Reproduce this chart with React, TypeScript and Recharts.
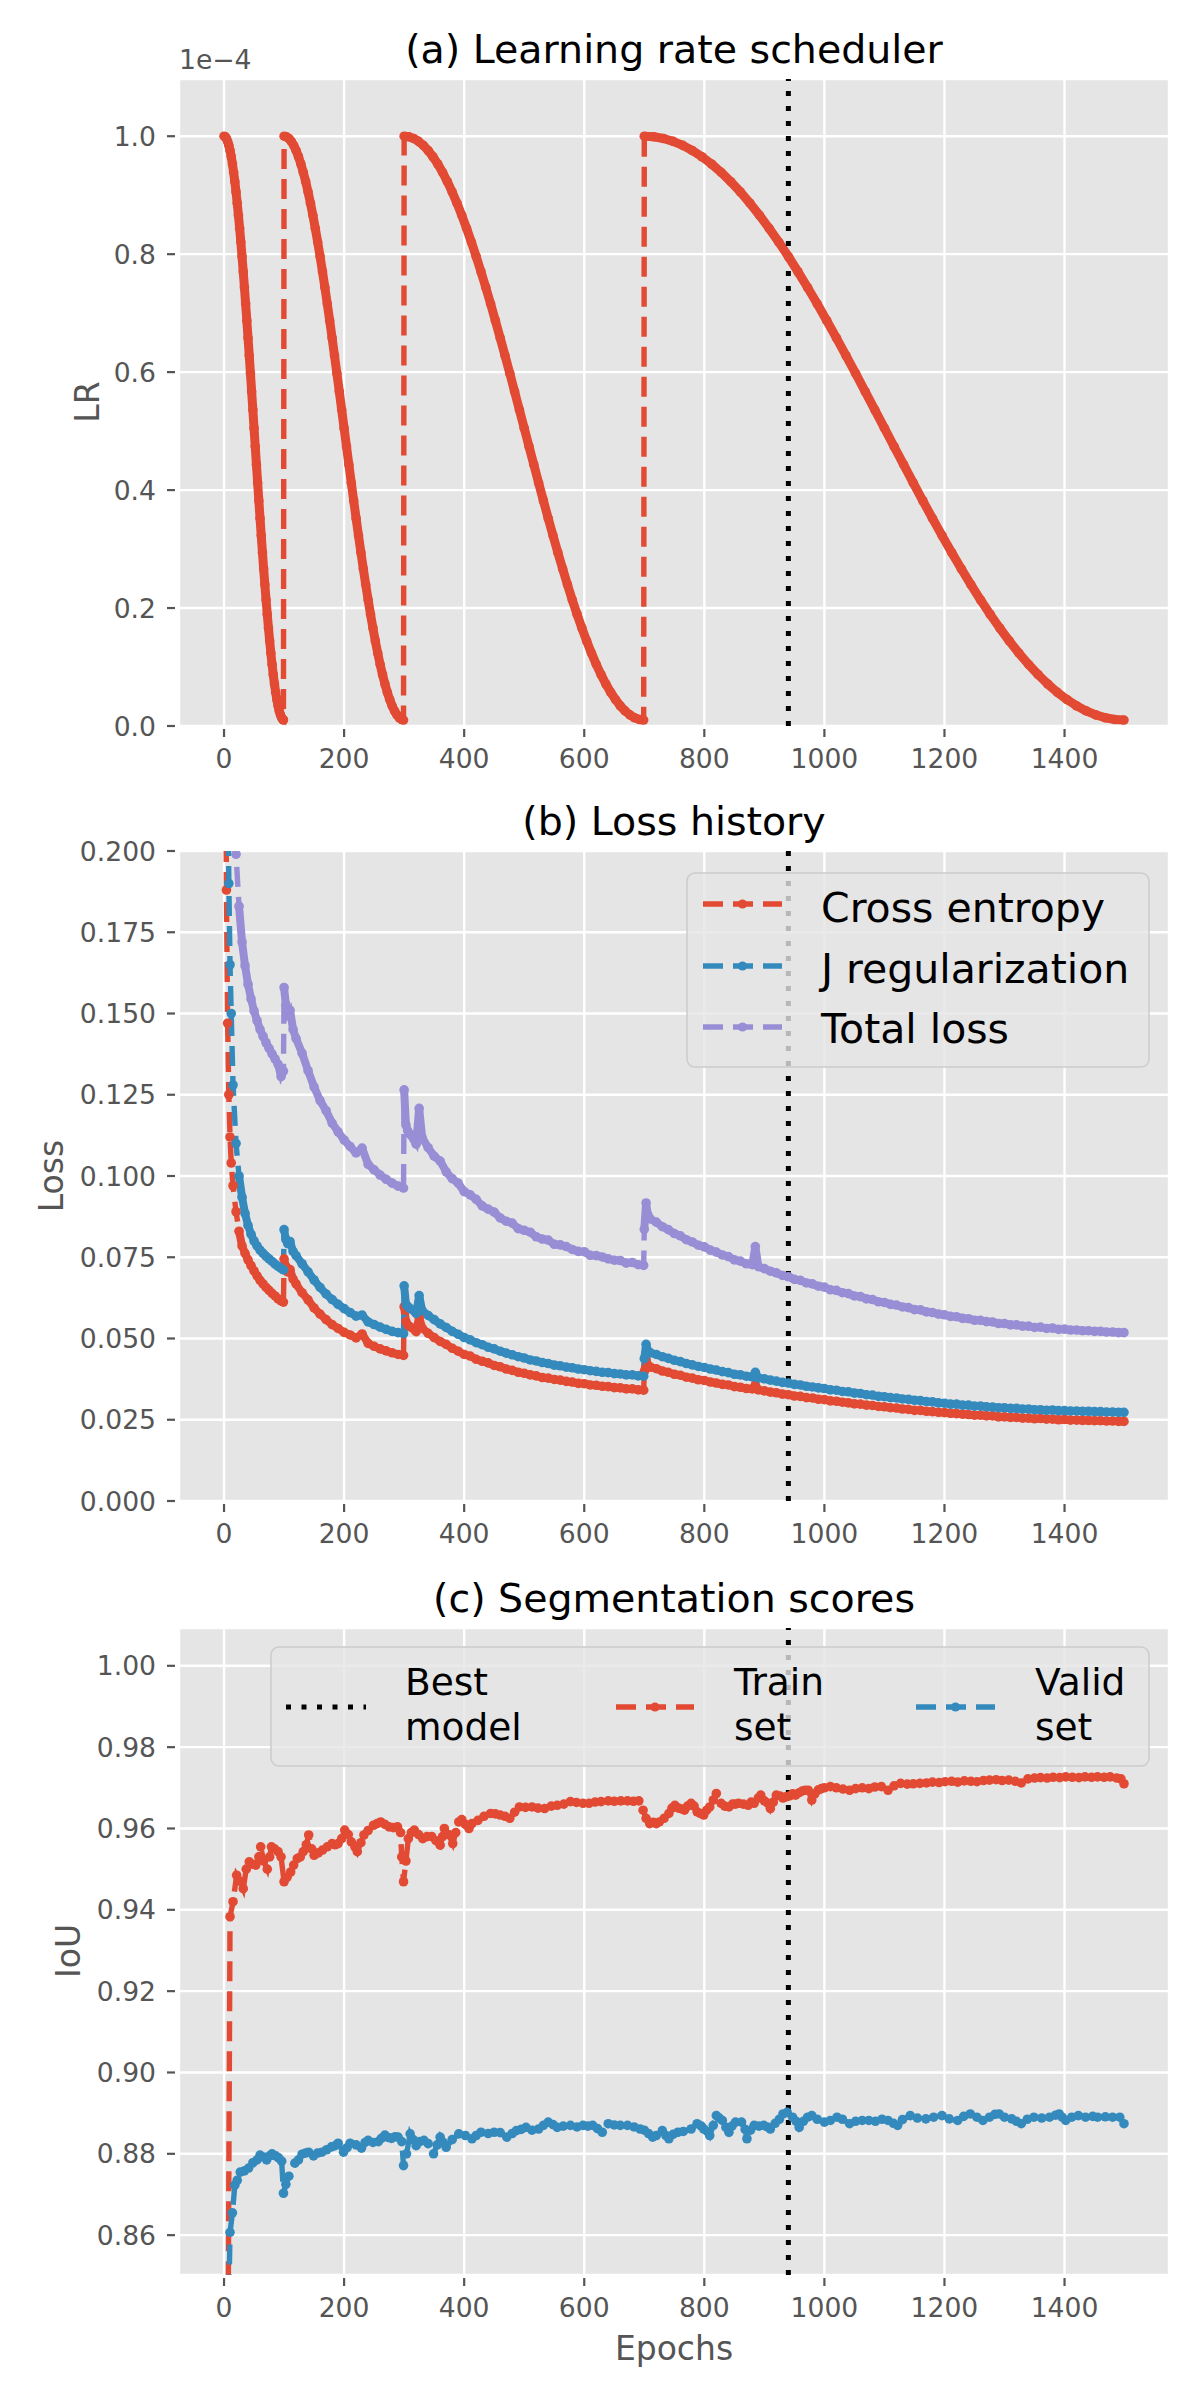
import React from 'react';
import { LineChart, Line, XAxis, YAxis, CartesianGrid, ReferenceLine } from 'recharts';

const FONT = '"DejaVu Sans", "Liberation Sans", sans-serif';
const RED = '#E24A33';
const BLUE = '#348ABD';
const PURPLE = '#988ED5';
const GRID_BG = '#E5E5E5';
const TICK_COLOR = '#555555';

// ---------- axis ticks ----------
const xTicks = [0, 200, 400, 600, 800, 1000, 1200, 1400];
const lrTicks = [0, 0.2, 0.4, 0.6, 0.8, 1.0];
const lossTicks = [0, 0.025, 0.05, 0.075, 0.1, 0.125, 0.15, 0.175, 0.2];
const iouTicks = [0.86, 0.88, 0.9, 0.92, 0.94, 0.96, 0.98, 1.0];
const bestEpoch = 940;
const restartEpochs = [100, 300, 700];

// ---------- (a) learning rate (units of 1e-4) ----------
const lrEpochs1 = [0, 2, 4, 6, 8, 10, 12, 14, 16, 18, 20, 22, 24, 26, 28, 30, 32, 34, 36, 38, 40, 42, 44, 46, 48, 50, 52, 54, 56, 58, 60, 62, 64, 66, 68, 70, 72, 74, 76, 78, 80, 82, 84, 86, 88, 90, 92, 94, 96, 98, 99];
const lrCycle1 = [1.0, 0.999, 0.9961, 0.9912, 0.9845, 0.9758, 0.9652, 0.9529, 0.9388, 0.9229, 0.9055, 0.8864, 0.8658, 0.8438, 0.8205, 0.796, 0.7702, 0.7435, 0.7158, 0.6872, 0.658, 0.6281, 0.5978, 0.567, 0.5361, 0.505, 0.4739, 0.443, 0.4122, 0.3819, 0.352, 0.3228, 0.2942, 0.2665, 0.2398, 0.214, 0.1895, 0.1662, 0.1442, 0.1236, 0.1045, 0.0871, 0.0712, 0.0571, 0.0448, 0.0342, 0.0256, 0.0188, 0.0139, 0.011, 0.0102];
const lrEpochs2 = [100, 104, 108, 112, 116, 120, 124, 128, 132, 136, 140, 144, 148, 152, 156, 160, 164, 168, 172, 176, 180, 184, 188, 192, 196, 200, 204, 208, 212, 216, 220, 224, 228, 232, 236, 240, 244, 248, 252, 256, 260, 264, 268, 272, 276, 280, 284, 288, 292, 296, 299];
const lrCycle2 = [1.0, 0.999, 0.9961, 0.9912, 0.9845, 0.9758, 0.9652, 0.9529, 0.9388, 0.9229, 0.9055, 0.8864, 0.8658, 0.8438, 0.8205, 0.796, 0.7702, 0.7435, 0.7158, 0.6872, 0.658, 0.6281, 0.5978, 0.567, 0.5361, 0.505, 0.4739, 0.443, 0.4122, 0.3819, 0.352, 0.3228, 0.2942, 0.2665, 0.2398, 0.214, 0.1895, 0.1662, 0.1442, 0.1236, 0.1045, 0.0871, 0.0712, 0.0571, 0.0448, 0.0342, 0.0256, 0.0188, 0.0139, 0.011, 0.0101];
const lrEpochs3 = [300, 308, 316, 324, 332, 340, 348, 356, 364, 372, 380, 388, 396, 404, 412, 420, 428, 436, 444, 452, 460, 468, 476, 484, 492, 500, 508, 516, 524, 532, 540, 548, 556, 564, 572, 580, 588, 596, 604, 612, 620, 628, 636, 644, 652, 660, 668, 676, 684, 692, 699];
const lrCycle3 = [1.0, 0.999, 0.9961, 0.9912, 0.9845, 0.9758, 0.9652, 0.9529, 0.9388, 0.9229, 0.9055, 0.8864, 0.8658, 0.8438, 0.8205, 0.796, 0.7702, 0.7435, 0.7158, 0.6872, 0.658, 0.6281, 0.5978, 0.567, 0.5361, 0.505, 0.4739, 0.443, 0.4122, 0.3819, 0.352, 0.3228, 0.2942, 0.2665, 0.2398, 0.214, 0.1895, 0.1662, 0.1442, 0.1236, 0.1045, 0.0871, 0.0712, 0.0571, 0.0448, 0.0342, 0.0256, 0.0188, 0.0139, 0.011, 0.0101];
const lrEpochs4 = [700, 716, 732, 748, 764, 780, 796, 812, 828, 844, 860, 876, 892, 908, 924, 940, 956, 972, 988, 1004, 1020, 1036, 1052, 1068, 1084, 1100, 1116, 1132, 1148, 1164, 1180, 1196, 1212, 1228, 1244, 1260, 1276, 1292, 1308, 1324, 1340, 1356, 1372, 1388, 1404, 1420, 1436, 1452, 1468, 1484, 1499];
const lrCycle4 = [1.0, 0.999, 0.9961, 0.9912, 0.9845, 0.9758, 0.9652, 0.9529, 0.9388, 0.9229, 0.9055, 0.8864, 0.8658, 0.8438, 0.8205, 0.796, 0.7702, 0.7435, 0.7158, 0.6872, 0.658, 0.6281, 0.5978, 0.567, 0.5361, 0.505, 0.4739, 0.443, 0.4122, 0.3819, 0.352, 0.3228, 0.2942, 0.2665, 0.2398, 0.214, 0.1895, 0.1662, 0.1442, 0.1236, 0.1045, 0.0871, 0.0712, 0.0571, 0.0448, 0.0342, 0.0256, 0.0188, 0.0139, 0.011, 0.0101];

// ---------- (b) loss history ----------
const lossEpochs = [
  0, 2, 4, 6, 8, 10, 12, 15, 20, 25, 30, 35, 40, 45, 50, 55, 60, 65, 70, 75, 80, 85, 90, 95, 99,
  100, 103, 106, 110, 115, 120, 130, 140, 150, 160, 170, 180, 190, 200, 210, 220, 230, 240, 250, 260, 270, 280, 290, 299,
  300, 303, 306, 310, 320, 325, 330, 340, 350, 360, 370, 380, 390, 400, 410, 420, 430, 440, 450, 460, 470, 480, 490, 500, 510, 520, 530, 540, 550, 560, 570, 580, 590, 600, 610, 620, 630, 640, 650, 660, 670, 680, 690, 699,
  700, 703, 706, 710, 720, 730, 740, 750, 760, 770, 780, 790, 800, 810, 820, 830, 840, 850, 860, 870, 880, 885,
  890, 900, 910, 920, 930, 940, 950, 960, 970, 980, 990, 1000, 1010, 1020, 1030, 1040, 1050, 1060, 1070, 1080,
  1090, 1100, 1110, 1120, 1130, 1140, 1150, 1160, 1170, 1180, 1190, 1200, 1210, 1220, 1230, 1240, 1250, 1260, 1270, 1280,
  1290, 1300, 1310, 1320, 1330, 1340, 1350, 1360, 1370, 1380, 1390, 1400, 1410, 1420, 1430, 1440, 1450, 1460, 1470, 1480, 1490, 1499,
];
const crossEntropy = [
  0.452, 0.262, 0.188, 0.147, 0.125, 0.112, 0.104, 0.097, 0.089, 0.083, 0.0785, 0.0762, 0.0742, 0.0724, 0.0708, 0.0693, 0.0679, 0.0668, 0.0657, 0.0648, 0.0639, 0.0631, 0.0622, 0.0616, 0.0612,
  0.0745, 0.0722, 0.0705, 0.0712, 0.0683, 0.0668, 0.0641, 0.0619, 0.0594, 0.0575, 0.0558, 0.0543, 0.0531, 0.0519, 0.0511, 0.0502, 0.0514, 0.0485, 0.0476, 0.0468, 0.0462, 0.0456, 0.0451, 0.0448,
  0.0598, 0.0552, 0.0541, 0.0536, 0.0521, 0.0566, 0.0532, 0.0516, 0.0503, 0.0491, 0.0482, 0.047, 0.0461, 0.0451, 0.0446, 0.0436, 0.043, 0.0425, 0.0417, 0.0413, 0.0406, 0.0402, 0.0396, 0.0393, 0.0388, 0.0385, 0.038, 0.0378, 0.0374, 0.0372, 0.0368, 0.0366, 0.0362, 0.0361, 0.0357, 0.0356, 0.0353, 0.0352, 0.0349, 0.0348, 0.0345, 0.0345, 0.0342, 0.0341,
  0.0398, 0.0435, 0.0418, 0.0412, 0.0407, 0.04, 0.0396, 0.039, 0.0387, 0.0381, 0.0378, 0.0373, 0.0371, 0.0366, 0.0363, 0.0359, 0.0357, 0.0352, 0.035, 0.0346, 0.0345, 0.0357,
  0.0342, 0.0339, 0.0335, 0.0333, 0.0329, 0.0327, 0.0323, 0.0322, 0.0318, 0.0317, 0.0313, 0.0312, 0.0308, 0.0307, 0.0304, 0.0302, 0.0299, 0.0298, 0.0295, 0.0294,
  0.0291, 0.029, 0.0287, 0.0286, 0.0283, 0.0282, 0.0279, 0.0279, 0.0276, 0.0275, 0.0273, 0.0272, 0.027, 0.0269, 0.0267, 0.0266, 0.0264, 0.0264, 0.0262, 0.0262,
  0.0259, 0.0259, 0.0257, 0.0257, 0.0255, 0.0255, 0.0253, 0.0254, 0.0252, 0.0252, 0.025, 0.0251, 0.0249, 0.0249, 0.0248, 0.0248, 0.0247, 0.0247, 0.0246, 0.0246, 0.0245, 0.0245,
];
const jRegularization = [
  0.5, 0.4, 0.3, 0.24, 0.19, 0.165, 0.15, 0.128, 0.11, 0.1, 0.0935, 0.0885, 0.0848, 0.0821, 0.08, 0.0785, 0.0772, 0.0762, 0.0753, 0.0745, 0.0737, 0.0729, 0.0722, 0.0716, 0.0711,
  0.0835, 0.0805, 0.0792, 0.0798, 0.0768, 0.0755, 0.073, 0.0705, 0.068, 0.0657, 0.0637, 0.062, 0.0605, 0.0592, 0.058, 0.0569, 0.0572, 0.0551, 0.0543, 0.0535, 0.0528, 0.0522, 0.0518, 0.0515,
  0.0662, 0.0605, 0.0598, 0.0592, 0.0577, 0.0632, 0.0586, 0.0571, 0.0558, 0.0545, 0.0534, 0.0522, 0.0513, 0.0503, 0.0496, 0.0487, 0.0481, 0.0473, 0.0468, 0.0461, 0.0455, 0.045, 0.0444, 0.044, 0.0434, 0.0431, 0.0426, 0.0423, 0.0418, 0.0416, 0.0412, 0.041, 0.0406, 0.0404, 0.0401, 0.0399, 0.0396, 0.0395, 0.0392, 0.0391, 0.0388, 0.0388, 0.0385, 0.0384,
  0.0438, 0.0482, 0.0462, 0.0456, 0.0451, 0.0444, 0.0439, 0.0433, 0.0429, 0.0423, 0.0419, 0.0414, 0.0411, 0.0406, 0.0403, 0.0398, 0.0395, 0.039, 0.0388, 0.0384, 0.0382, 0.0396,
  0.0379, 0.0376, 0.0372, 0.0369, 0.0365, 0.0363, 0.0359, 0.0357, 0.0353, 0.0351, 0.0348, 0.0346, 0.0342, 0.0341, 0.0337, 0.0336, 0.0332, 0.0331, 0.0327, 0.0326,
  0.0322, 0.0321, 0.0318, 0.0317, 0.0314, 0.0313, 0.031, 0.0309, 0.0306, 0.0305, 0.0302, 0.0301, 0.0298, 0.0298, 0.0295, 0.0295, 0.0292, 0.0292, 0.029, 0.0289,
  0.0287, 0.0287, 0.0285, 0.0285, 0.0283, 0.0283, 0.0281, 0.0281, 0.0279, 0.028, 0.0278, 0.0278, 0.0277, 0.0277, 0.0276, 0.0276, 0.0275, 0.0275, 0.0274, 0.0274, 0.0273, 0.0273,
];
const totalLoss = [
  0.952, 0.662, 0.488, 0.387, 0.315, 0.277, 0.254, 0.225, 0.199, 0.183, 0.172, 0.1647, 0.159, 0.1545, 0.1508, 0.1478, 0.1451, 0.143, 0.141, 0.1393, 0.1376, 0.136, 0.1344, 0.1306, 0.1323,
  0.158, 0.1527, 0.1497, 0.151, 0.1451, 0.1423, 0.1378, 0.1324, 0.1274, 0.1232, 0.1201, 0.1163, 0.1136, 0.1111, 0.1091, 0.1071, 0.1086, 0.1036, 0.1019, 0.1003, 0.099, 0.0978, 0.0969, 0.0963,
  0.1265, 0.1157, 0.1139, 0.1128, 0.1098, 0.1208, 0.1118, 0.1087, 0.1061, 0.1046, 0.1013, 0.0992, 0.0978, 0.0952, 0.0942, 0.0928, 0.0908, 0.0898, 0.0889, 0.0871, 0.0861, 0.0855, 0.0838, 0.0833, 0.0827, 0.0813, 0.0806, 0.0803, 0.079, 0.0788, 0.0783, 0.0774, 0.0768, 0.0767, 0.0756, 0.0755, 0.0751, 0.0745, 0.0741, 0.074, 0.0732, 0.0734, 0.0727, 0.0725,
  0.0836, 0.0917, 0.088, 0.0868, 0.0858, 0.0844, 0.0835, 0.0823, 0.0816, 0.0804, 0.0797, 0.0787, 0.0782, 0.0772, 0.0766, 0.0757, 0.0752, 0.0742, 0.0738, 0.073, 0.0727, 0.0783,
  0.0721, 0.0715, 0.0707, 0.0702, 0.0694, 0.069, 0.0682, 0.0679, 0.0671, 0.0668, 0.0661, 0.0658, 0.065, 0.0648, 0.0641, 0.0638, 0.0631, 0.0629, 0.0622, 0.062,
  0.0613, 0.0611, 0.0605, 0.0603, 0.0597, 0.0595, 0.0589, 0.0588, 0.0582, 0.058, 0.0575, 0.0573, 0.0568, 0.0567, 0.0562, 0.0561, 0.0556, 0.0556, 0.0552, 0.0551,
  0.0546, 0.0546, 0.0542, 0.0542, 0.0538, 0.0538, 0.0534, 0.0535, 0.0531, 0.0532, 0.0528, 0.0529, 0.0526, 0.0526, 0.0524, 0.0524, 0.0522, 0.0522, 0.052, 0.052, 0.0518, 0.0518,
];

// ---------- (c) segmentation scores ----------
const trainEpochs = [0, 10, 15, 21, 27, 32, 37, 42, 48, 53, 58, 61, 66, 72, 76, 79, 84, 90, 95, 100, 105, 111, 116, 122, 127, 132, 137, 141, 146, 150, 157, 164, 172, 180, 185, 190, 196, 201, 207, 212, 218, 222, 228, 233, 240, 249, 255, 261, 268, 275, 282, 289, 294, 296, 299, 303, 307, 312, 317, 324, 331, 338, 346, 353, 360, 364, 367, 374, 381, 386, 391, 396, 402, 408, 413, 423, 433, 444, 452, 460, 468, 476, 484, 492, 502, 513, 523, 534, 545, 555, 566, 577, 587, 598, 608, 618, 628, 640, 650, 661, 672, 682, 691, 698, 703, 709, 715, 720, 725, 733, 741, 746, 751, 757, 762, 767, 772, 778, 783, 788, 793, 799, 804, 809, 815, 820, 828, 834, 841, 847, 852, 857, 865, 873, 878, 883, 890, 894, 900, 906, 910, 915, 920, 926, 931, 936, 942, 947, 952, 958, 963, 968, 973, 979, 984, 990, 995, 1000, 1010, 1020, 1031, 1042, 1052, 1063, 1074, 1084, 1095, 1106, 1116, 1127, 1138, 1148, 1159, 1170, 1180, 1191, 1201, 1212, 1222, 1233, 1244, 1254, 1265, 1275, 1286, 1296, 1307, 1318, 1328, 1339, 1350, 1360, 1371, 1381, 1392, 1402, 1413, 1424, 1434, 1445, 1455, 1466, 1476, 1487, 1494, 1499];
const trainIoU = [0.62, 0.9383, 0.942, 0.9485, 0.947, 0.9452, 0.95, 0.9518, 0.9512, 0.951, 0.953, 0.9555, 0.952, 0.95, 0.953, 0.9555, 0.955, 0.9543, 0.953, 0.9469, 0.948, 0.9493, 0.951, 0.9526, 0.953, 0.9543, 0.956, 0.9584, 0.955, 0.9534, 0.954, 0.9547, 0.9555, 0.9563, 0.956, 0.9563, 0.9575, 0.9596, 0.9585, 0.9567, 0.9555, 0.9543, 0.9565, 0.9584, 0.9595, 0.9608, 0.9612, 0.9616, 0.961, 0.9604, 0.9602, 0.9604, 0.959, 0.953, 0.9469, 0.952, 0.9575, 0.959, 0.9596, 0.9585, 0.9575, 0.958, 0.958, 0.957, 0.9559, 0.958, 0.96, 0.9585, 0.9563, 0.959, 0.9616, 0.9622, 0.961, 0.96, 0.9612, 0.962, 0.963, 0.9637, 0.9636, 0.9633, 0.963, 0.9625, 0.964, 0.9653, 0.9652, 0.9653, 0.965, 0.9649, 0.9655, 0.9657, 0.966, 0.9666, 0.9664, 0.9662, 0.9662, 0.9665, 0.9666, 0.9668, 0.9667, 0.9668, 0.9668, 0.9667, 0.9668, 0.9645, 0.9625, 0.9612, 0.9615, 0.9612, 0.9616, 0.9625, 0.9637, 0.965, 0.9657, 0.965, 0.9648, 0.9645, 0.9655, 0.9662, 0.9655, 0.9641, 0.9637, 0.9633, 0.9645, 0.9653, 0.967, 0.9686, 0.9662, 0.9655, 0.9653, 0.966, 0.966, 0.9662, 0.966, 0.9657, 0.9665, 0.9662, 0.9675, 0.9682, 0.9668, 0.9662, 0.9649, 0.9665, 0.9682, 0.968, 0.9675, 0.9678, 0.968, 0.9685, 0.9682, 0.9688, 0.9692, 0.9694, 0.9694, 0.967, 0.9685, 0.9695, 0.9698, 0.97, 0.9703, 0.97, 0.9697, 0.9694, 0.9698, 0.97, 0.9698, 0.9702, 0.9703, 0.9694, 0.9705, 0.9711, 0.9709, 0.971, 0.9711, 0.9712, 0.9714, 0.9713, 0.9715, 0.9716, 0.9714, 0.9717, 0.9716, 0.9715, 0.9718, 0.9719, 0.972, 0.9718, 0.9719, 0.9716, 0.9712, 0.9722, 0.9724, 0.9725, 0.9724, 0.9726, 0.9725, 0.9727, 0.9726, 0.9725, 0.9727, 0.9726, 0.9727, 0.9726, 0.9727, 0.9724, 0.9722, 0.971];
const validEpochs = [0, 5, 10, 14, 18, 22, 27, 34, 41, 48, 55, 60, 66, 71, 76, 80, 86, 91, 96, 99, 103, 108, 118, 124, 130, 136, 141, 149, 156, 163, 171, 179, 185, 190, 199, 205, 210, 220, 229, 235, 240, 248, 257, 262, 268, 274, 279, 285, 290, 296, 299, 304, 310, 315, 320, 326, 333, 340, 349, 355, 360, 365, 370, 380, 391, 402, 413, 420, 428, 440, 450, 460, 471, 480, 487, 495, 503, 513, 524, 532, 540, 548, 555, 565, 577, 588, 598, 606, 614, 622, 630, 640, 650, 660, 672, 683, 693, 700, 707, 714, 720, 730, 736, 741, 748, 756, 765, 778, 788, 795, 799, 805, 809, 815, 820, 825, 830, 836, 841, 846, 852, 862, 868, 871, 877, 883, 891, 899, 905, 910, 918, 925, 931, 938, 947, 953, 958, 965, 972, 979, 988, 1000, 1010, 1021, 1030, 1042, 1052, 1063, 1074, 1085, 1096, 1106, 1115, 1122, 1130, 1143, 1155, 1169, 1182, 1196, 1208, 1222, 1232, 1243, 1254, 1264, 1275, 1284, 1291, 1300, 1312, 1320, 1328, 1338, 1349, 1362, 1375, 1385, 1391, 1396, 1402, 1412, 1423, 1435, 1447, 1455, 1468, 1480, 1492, 1499];
const validIoU = [0.72, 0.82, 0.8607, 0.8655, 0.8723, 0.8735, 0.8755, 0.8758, 0.8765, 0.8778, 0.8785, 0.8797, 0.8792, 0.8785, 0.8795, 0.88, 0.8795, 0.879, 0.8782, 0.8703, 0.8725, 0.8745, 0.8777, 0.8785, 0.8799, 0.8802, 0.8804, 0.8795, 0.8802, 0.8804, 0.881, 0.8817, 0.882, 0.8826, 0.8804, 0.8815, 0.8826, 0.8822, 0.8814, 0.8828, 0.8833, 0.8828, 0.883, 0.8838, 0.8846, 0.884, 0.8838, 0.8842, 0.8841, 0.883, 0.8771, 0.88, 0.8849, 0.8835, 0.882, 0.883, 0.8833, 0.8825, 0.88, 0.8822, 0.8841, 0.8828, 0.8816, 0.8835, 0.8849, 0.8845, 0.8837, 0.8845, 0.8853, 0.885, 0.8853, 0.8852, 0.8841, 0.885, 0.8857, 0.886, 0.8865, 0.8858, 0.8861, 0.887, 0.8878, 0.8872, 0.8865, 0.8868, 0.887, 0.8866, 0.887, 0.8868, 0.887, 0.8862, 0.8853, 0.8874, 0.8871, 0.887, 0.887, 0.8866, 0.8861, 0.8858, 0.885, 0.8841, 0.8845, 0.8857, 0.8845, 0.8837, 0.8848, 0.8853, 0.8855, 0.8861, 0.8874, 0.8868, 0.8861, 0.8855, 0.8845, 0.887, 0.8894, 0.8888, 0.8882, 0.8865, 0.8853, 0.8868, 0.8878, 0.8878, 0.886, 0.8837, 0.8858, 0.887, 0.8868, 0.887, 0.8866, 0.8861, 0.8875, 0.8885, 0.8898, 0.8902, 0.889, 0.888, 0.8865, 0.888, 0.889, 0.8894, 0.8885, 0.8878, 0.8882, 0.889, 0.8885, 0.8874, 0.888, 0.8882, 0.8882, 0.888, 0.8885, 0.8882, 0.8875, 0.887, 0.8884, 0.8894, 0.8888, 0.8886, 0.889, 0.8894, 0.8886, 0.8882, 0.8892, 0.8898, 0.889, 0.8882, 0.889, 0.8897, 0.8898, 0.889, 0.8886, 0.888, 0.8874, 0.8885, 0.889, 0.8888, 0.889, 0.8895, 0.8898, 0.889, 0.8882, 0.889, 0.8894, 0.889, 0.8892, 0.889, 0.8891, 0.889, 0.889, 0.8874];

// ---------- tables built from the arrays ----------
const lrRows = [
  ...lrEpochs1.map((e, i) => ({ epoch: e, lr: lrCycle1[i], band1: lrCycle1[i] })),
  ...lrEpochs2.map((e, i) => ({ epoch: e, lr: lrCycle2[i], band2: lrCycle2[i] })),
  ...lrEpochs3.map((e, i) => ({ epoch: e, lr: lrCycle3[i], band3: lrCycle3[i] })),
  ...lrEpochs4.map((e, i) => ({ epoch: e, lr: lrCycle4[i], band4: lrCycle4[i] })),
];
const bandStartEpoch = 25; // the steep first epochs stay as dashed + markers only
const cycleOf = (e: number) => restartEpochs.filter((r) => e >= r).length + 1;
const lossRows = lossEpochs.map((e, i) => {
  const c = cycleOf(e);
  const row: any = { epoch: e, ce: crossEntropy[i], jr: jRegularization[i], total: totalLoss[i] };
  if (e >= bandStartEpoch) {
    row[`ce_${c}`] = crossEntropy[i];
    row[`jr_${c}`] = jRegularization[i];
    row[`total_${c}`] = totalLoss[i];
  }
  return row;
});
const iouRowsMap = new Map<number, any>();
trainEpochs.forEach((e, i) => { iouRowsMap.set(e, { ...(iouRowsMap.get(e) || { epoch: e }), train: trainIoU[i] }); });
validEpochs.forEach((e, i) => { iouRowsMap.set(e, { ...(iouRowsMap.get(e) || { epoch: e }), valid: validIoU[i] }); });
const iouRows = Array.from(iouRowsMap.values()).sort((a, b) => a.epoch - b.epoch);

// ---------- ticks ----------
function makeYTick(digits: number) {
  return (props: any) => {
    const { x, y, payload } = props;
    return (
      <g>
        <line x1={x - 12} x2={x - 4} y1={y} y2={y} stroke={TICK_COLOR} strokeWidth={2.2} />
        <text x={x - 23} y={y} dy="0.36em" textAnchor="end" fill={TICK_COLOR} fontSize={26.6} fontFamily={FONT}>
          {Number(payload.value).toFixed(digits)}
        </text>
      </g>
    );
  };
}
const XTick = (props: any) => {
  const { x, y, payload } = props;
  return (
    <g>
      <line x1={x} x2={x} y1={y + 3} y2={y + 11} stroke={TICK_COLOR} strokeWidth={2.2} />
      <text x={x} y={y + 42} textAnchor="middle" fill={TICK_COLOR} fontSize={26.6} fontFamily={FONT}>
        {payload.value}
      </text>
    </g>
  );
};

const dotOf = (c: string) => ({ r: 4.8, fill: c, stroke: c, strokeWidth: 0 });

function Panel(props: { top: number; mTop: number; mBottom: number; data: any[]; domain: number[]; ticks: number[]; digits: number; children: React.ReactNode }) {
  const { top, mTop, mBottom, data, domain, ticks, digits, children } = props;
  return (
    <div style={{ position: 'absolute', left: 0, top, width: 1200, height: 800 }}>
      <LineChart width={1200} height={800} data={data} margin={{ top: mTop, right: 31, bottom: mBottom, left: 0 }}>
        <CartesianGrid stroke="#FFFFFF" strokeWidth={2.4} fill={GRID_BG} fillOpacity={1} />
        <XAxis
          type="number"
          dataKey="epoch"
          domain={[-75, 1574]}
          ticks={xTicks}
          interval={0}
          allowDataOverflow
          axisLine={false}
          tickLine={false}
          tickSize={0}
          tickMargin={0}
          height={60}
          tick={XTick}
        />
        <YAxis
          type="number"
          domain={domain}
          ticks={ticks}
          interval={0}
          allowDataOverflow
          axisLine={false}
          tickLine={false}
          tickSize={0}
          tickMargin={0}
          width={179}
          tick={makeYTick(digits)}
        />
        {children}
      </LineChart>
    </div>
  );
}

const DashHandle = ({ x1, x2, y, color }: { x1: number; x2: number; y: number; color: string }) => (
  <g>
    <line x1={x1} x2={x2} y1={y} y2={y} stroke={color} strokeWidth={5.4} strokeDasharray="20 10" />
    <circle cx={(x1 + x2) / 2} cy={y} r={4.6} fill={color} />
  </g>
);

export default function App() {
  const seriesLine = (key: string, color: string) => (
    <Line
      key={key}
      type="linear"
      dataKey={key}
      stroke={color}
      strokeWidth={5.4}
      strokeDasharray="20 10"
      dot={dotOf(color)}
      activeDot={false}
      connectNulls
      isAnimationActive={false}
    />
  );
  const band = (key: string, color: string, w: number) => (
    <Line key={key} type="linear" dataKey={key} stroke={color} strokeWidth={w} strokeLinejoin="round" dot={false} activeDot={false} isAnimationActive={false} />
  );
  const bestLine = <ReferenceLine x={bestEpoch} stroke="#000000" strokeWidth={5} strokeDasharray="5 10" />;
  const cycles = [1, 2, 3, 4];

  return (
    <div style={{ position: 'absolute', left: 0, top: 0, width: 1200, height: 2400, background: '#FFFFFF', fontFamily: FONT }}>
      <Panel top={0} mTop={79} mBottom={14} data={lrRows} domain={[0, 1.097]} ticks={lrTicks} digits={1}>
        {cycles.map((c) => band(`band${c}`, RED, 9))}
        {seriesLine('lr', RED)}
        {bestLine}
      </Panel>
      <Panel top={800} mTop={51} mBottom={39} data={lossRows} domain={[0, 0.2]} ticks={lossTicks} digits={3}>
        {cycles.map((c) => band(`ce_${c}`, RED, 8))}
        {seriesLine('ce', RED)}
        {cycles.map((c) => band(`jr_${c}`, BLUE, 8))}
        {seriesLine('jr', BLUE)}
        {cycles.map((c) => band(`total_${c}`, PURPLE, 8))}
        {seriesLine('total', PURPLE)}
        {bestLine}
      </Panel>
      <Panel top={1600} mTop={28} mBottom={65} data={iouRows} domain={[0.8502, 1.0093]} ticks={iouTicks} digits={2}>
        {seriesLine('train', RED)}
        {seriesLine('valid', BLUE)}
        {bestLine}
      </Panel>

      <svg width={1200} height={2400} style={{ position: 'absolute', left: 0, top: 0, pointerEvents: 'none' }}>
        <g fontFamily={FONT}>
          {/* titles */}
          <text x={674} y={63} textAnchor="middle" fontSize={39.5} fill="#000">(a) Learning rate scheduler</text>
          <text x={674} y={835} textAnchor="middle" fontSize={39.5} fill="#000">(b) Loss history</text>
          <text x={674} y={1612} textAnchor="middle" fontSize={39.5} fill="#000">(c) Segmentation scores</text>
          {/* offset text */}
          <text x={179} y={69} textAnchor="start" fontSize={26.6} fill={TICK_COLOR}>1e−4</text>
          {/* y labels */}
          <text x={99} y={402} textAnchor="middle" fontSize={33} fill={TICK_COLOR} transform="rotate(-90 99 402)">LR</text>
          <text x={63} y={1176} textAnchor="middle" fontSize={33} fill={TICK_COLOR} transform="rotate(-90 63 1176)">Loss</text>
          <text x={80} y={1951} textAnchor="middle" fontSize={33} fill={TICK_COLOR} transform="rotate(-90 80 1951)">IoU</text>
          {/* x label */}
          <text x={674} y={2360} textAnchor="middle" fontSize={33} fill={TICK_COLOR}>Epochs</text>

          {/* legend (b) */}
          <rect x={687} y={873} width={462} height={194} rx={8} ry={8} fill="rgba(229,229,229,0.8)" stroke="#CCCCCC" strokeWidth={1.5} />
          <DashHandle x1={703} x2={782} y={904} color={RED} />
          <DashHandle x1={703} x2={782} y={966} color={BLUE} />
          <DashHandle x1={703} x2={782} y={1027} color={PURPLE} />
          <text x={821} y={922} fontSize={41} fill="#000">Cross entropy</text>
          <text x={821} y={983} fontSize={41} fill="#000">J regularization</text>
          <text x={821} y={1043} fontSize={41} fill="#000">Total loss</text>

          {/* legend (c) */}
          <rect x={271} y={1647} width={878} height={119} rx={8} ry={8} fill="rgba(229,229,229,0.8)" stroke="#CCCCCC" strokeWidth={1.5} />
          <line x1={286} x2={366} y1={1707} y2={1707} stroke="#000" strokeWidth={5} strokeDasharray="5 10.5" />
          <text x={405} y={1695} fontSize={37.5} fill="#000">Best</text>
          <text x={405} y={1740} fontSize={37.5} fill="#000">model</text>
          <DashHandle x1={616} x2={694} y={1707} color={RED} />
          <text x={734} y={1695} fontSize={37.5} fill="#000">Train</text>
          <text x={734} y={1740} fontSize={37.5} fill="#000">set</text>
          <DashHandle x1={916} x2={995} y={1707} color={BLUE} />
          <text x={1035} y={1695} fontSize={37.5} fill="#000">Valid</text>
          <text x={1035} y={1740} fontSize={37.5} fill="#000">set</text>
        </g>
      </svg>
    </div>
  );
}
